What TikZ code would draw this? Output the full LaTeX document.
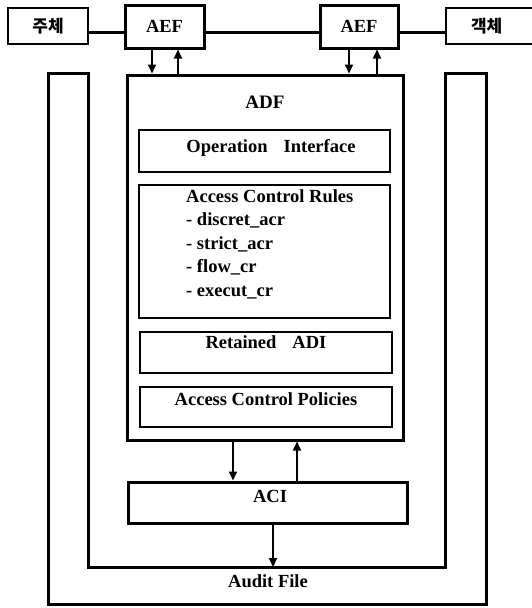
\documentclass[tikz,border=0pt]{standalone}
\usepackage{fontspec}
\setmainfont{Liberation Serif}
\newfontfamily\krfont{Noto Sans CJK KR}
\usetikzlibrary{arrows.meta,positioning,calc}
\tikzset{
  thickbox/.style={draw, line width=3pt, inner sep=0pt},
  thinbox/.style={draw, line width=2pt, inner sep=0pt},
  lab/.style={font=\bfseries\fontsize{18.5}{20}\selectfont, inner sep=0pt},
  krlab/.style={font=\krfont\bfseries\fontsize{17}{19}\selectfont},
  wire/.style={line width=3pt},
  arr/.style={line width=2pt, -{Triangle[length=9pt,width=8pt]}},
}
\begin{document}
\begin{tikzpicture}[x=1pt,y=-1pt]
\useasboundingbox (0,0) rectangle (532,608);
% top row
\node[thinbox, minimum width=80pt, minimum height=36pt, krlab] (subj) at (48,26) {주체};
\node[thickbox, minimum width=79pt, minimum height=43pt, lab] (aefl) at (164.5,26.5) {AEF};
\node[thickbox, minimum width=78pt, minimum height=43pt, lab] (aefr) at (359,26.5) {AEF};
\node[thinbox, minimum width=100pt, minimum height=36pt, krlab, text width=84pt, align=left] (obj) at (496,26) {\hspace*{17pt}객체};
\draw[wire] (subj.east |- 0,32) -- (aefl.west |- 0,32);
\draw[wire] (aefl.east |- 0,32) -- (aefr.west |- 0,32);
\draw[wire] (aefr.east |- 0,32) -- (obj.west |- 0,32);
% ADF
\node[thickbox, minimum width=276pt, minimum height=365pt] (adf) at (265,257.5) {};
\node[lab, font=\bfseries\fontsize{19}{21}\selectfont] (adft) at (265,102) {ADF};
\node[thinbox, minimum width=251pt, minimum height=42pt] (oi) at (264.5,151) {};
\node[lab] (oit) at (271,148) {Operation\hspace{16pt}Interface};
\node[thinbox, minimum width=251pt, minimum height=133pt] (acr) at (264.5,251.5) {};
\node[lab, anchor=west, align=left, font=\bfseries\fontsize{18.5}{23.5}\selectfont] (acrt) at (186,244) {Access Control Rules\\- discret\_acr\\- strict\_acr\\- flow\_cr\\- execut\_cr};
\node[thinbox, minimum width=252pt, minimum height=41pt] (radi) at (266,352.5) {};
\node[lab] (radit) at (266,342) {Retained\hspace{16pt}ADI};
\node[thinbox, minimum width=252pt, minimum height=40pt] (acp) at (266,407) {};
\node[lab] (acpt) at (266,399) {Access Control Policies};
% arrows AEF <-> ADF
\draw[arr] (152,0 |- aefl.south) -- (152,0 |- adf.north);
\draw[arr] (178,0 |- adf.north) -- (178,0 |- aefl.south);
\draw[arr] (349,0 |- aefr.south) -- (349,0 |- adf.north);
\draw[arr] (377,0 |- adf.north) -- (377,0 |- aefr.south);
% ACI
\node[thickbox, minimum width=279pt, minimum height=41pt] (aci) at (267.5,502.5) {};
\node[lab] (acit) at (270,496) {ACI};
\draw[arr] (233,0 |- adf.south) -- (233,0 |- aci.north);
\draw[arr] (297,0 |- aci.north) -- (297,0 |- adf.south);
% audit band
\coordinate (bo1) at (48,73);
\coordinate (bo2) at (48,604);
\coordinate (bo3) at (486,604);
\coordinate (bo4) at (486,73);
\coordinate (bi1) at (445,73);
\coordinate (bi2) at (445,567);
\coordinate (bi3) at (88,567);
\coordinate (bi4) at (88,73);
\draw[wire, line join=miter] (bo1) -- (bo2) -- (bo3) -- (bo4) -- (bi1) -- (bi2) -- (bi3) -- (bi4) -- cycle;
\node[lab] (audit) at (268,581) {Audit File};
\draw[arr] (273,0 |- aci.south) -- (273,0 |- bi3);
\end{tikzpicture}
\end{document}
